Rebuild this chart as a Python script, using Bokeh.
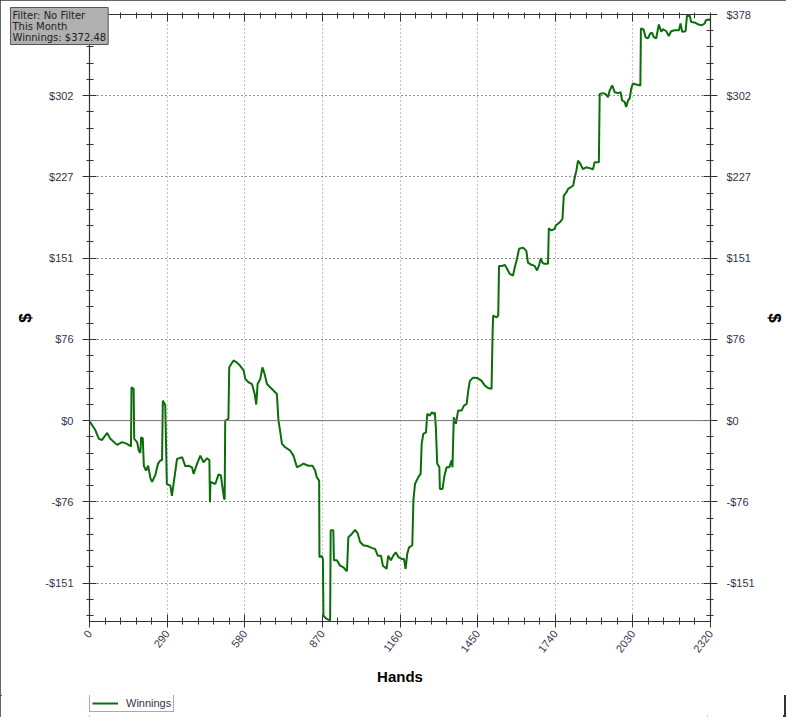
from bokeh.plotting import figure
from bokeh.layouts import column
from bokeh.models import (LinearAxis, FixedTicker, NumeralTickFormatter, Span, Legend,
                          LegendItem, Title, Range1d, ColumnDataSource)
from bokeh.embed import file_html
from bokeh.resources import INLINE

# ---- data ----
hands = [0, 4, 22, 35, 47, 66, 78, 103, 122, 140, 155, 157, 165, 167, 178, 184, 190, 193, 199,
         203, 211, 219, 228, 234, 246, 256, 265, 271, 274, 283, 289, 302, 308, 314, 321, 327,
         346, 358, 370, 383, 389, 402, 414, 426, 439, 448, 450, 452, 470, 482, 491, 495, 503,
         505, 507, 519, 522, 538, 551, 563, 576, 582, 594, 607, 617, 623, 628, 638, 646, 654,
         663, 675, 687, 700, 706, 712, 719, 731, 750, 762, 775, 787, 799, 818, 833, 843, 849,
         853, 858, 859, 868, 872, 874, 886, 899, 901, 911, 913, 924, 936, 949, 959, 962, 967,
         980, 992, 1002, 1011, 1023, 1042, 1054, 1067, 1077, 1089, 1096, 1110, 1116, 1126,
         1135, 1144, 1154, 1166, 1175, 1181, 1187, 1194, 1206, 1210, 1216, 1228, 1237, 1241,
         1247, 1257, 1262, 1272, 1278, 1287, 1290, 1294, 1299, 1307, 1309, 1319, 1325, 1334,
         1344, 1353, 1356, 1361, 1369, 1377, 1390, 1399, 1409, 1415, 1421, 1433, 1448, 1465,
         1477, 1489, 1502, 1506, 1508, 1521, 1527, 1530, 1543, 1551, 1557, 1570, 1582, 1589,
         1597, 1605, 1620, 1632, 1638, 1651, 1663, 1672, 1680, 1686, 1692, 1698, 1713, 1716,
         1726, 1738, 1742, 1757, 1767, 1772, 1782, 1788, 1797, 1807, 1813, 1819, 1825, 1834,
         1843, 1856, 1868, 1881, 1887, 1903, 1906, 1918, 1928, 1937, 1943, 1953, 1962, 1974,
         1984, 1990, 1999, 2005, 2012, 2018, 2024, 2030, 2043, 2058, 2060, 2070, 2077, 2086,
         2095, 2102, 2108, 2117, 2127, 2136, 2142, 2155, 2164, 2173, 2186, 2202, 2208, 2214,
         2227, 2232, 2242, 2248, 2260, 2275, 2288, 2298, 2303, 2313, 2320]
winnings = [-1, -2, -9, -17, -18, -11.5, -17, -22.6, -20, -21.7, -24, 31, 29.5, -17, -20, -28, -30,
            -15.5, -16.5, -42, -46.5, -42, -54, -57, -50.6, -40, -37, -37, 18.6, 14.6, -59, -60.5,
            -70, -59, -46.5, -35.7, -34, -42.5, -42, -43.5, -49.6, -40, -32.6, -38.8, -35, -37,
            -76, -57, -59, -50, -51, -59, -73, -73, 0, 1.5, 49.6, 56, 54, 51, 46.5, 38.8, 35.7, 34,
            24.8, 15, 34, 38.8, 49.6, 43.5, 34, 31, 28, 24.8, 0, -9.3, -21.7, -24.8, -28, -32.6,
            -43.5, -42, -40, -42, -42, -46.5, -52.8,
            -54, -56, -127, -126, -129, -181.6, -184.6, -186, -102, -102, -130, -130, -135, -136.6,
            -139.7, -139.7, -108.6, -105.5, -101.8, -105, -113, -116, -117, -118.5, -119.5, -125.7,
            -125.7, -135, -138, -125.7, -130, -125.7, -122.6, -127, -128.8, -128.8, -138, -124,
            -118, -116, -74.5, -59, -52.8, -49.6, -21.7, -12.4, -10.9, 6.2, 4.6, 7.7, 6.2, 7.7,
            -6.2, -40, -43.5, -63.6, -63.6, -52.8, -43.5, -43.5, -37, -43.5, 3, -3, 9.3, 9.3, 14,
            15.5, 28, 37, 40, 39.7, 37, 32.6, 30.4, 29.5, 82, 97.8, 96, 97.8, 144, 144, 145, 142.7,
            136.6, 135, 142.7, 150.5, 160, 161, 158, 147, 145, 144, 139.7, 145, 151, 147, 146, 146,
            179, 177, 178.5, 181.6, 184.6, 187.7, 209.5, 212.6, 215.7, 217, 218.8, 226.5, 232.8,
            242, 239, 234, 235.8, 235, 234, 240.5, 240.5, 304, 304.8, 304, 301, 307, 312, 305.7,
            304.8, 305.7, 298, 296.7, 292, 298, 299.8, 309, 313.8, 312.8, 312, 365, 364, 357,
            355.7, 360.3, 361, 357, 355.7, 368.7, 361.9, 364.3, 362.4, 358, 362.4, 363.4, 363.4,
            369.6, 361.9, 362.4, 376.7, 377.2, 371, 370.6, 368.7, 368, 369.6, 372.7, 373.4, 372.48]

x_ticks = [0, 290, 580, 870, 1160, 1450, 1740, 2030, 2320]
y_ticks = [-151.2, -75.6, 0, 75.6, 151.2, 226.8, 302.4, 378]
info_lines = ["Filter: No Filter", "This Month", "Winnings: $372.48"]
series_name = "Winnings"

FONT = "Liberation Sans"
LABEL_COLOR = "#34344c"
AXIS_COLOR = "#333333"
LINE_COLOR = "#0a6e0a"
LINE_WIDTH = 2

p = figure(frame_width=621, frame_height=607, output_backend="svg", toolbar_location=None,
           x_range=Range1d(0, 2320), y_range=Range1d(-187, 378),
           x_axis_location=None, y_axis_location=None,
           min_border_left=89, min_border_right=73, min_border_top=14, min_border_bottom=74)
p.outline_line_color = None
p.background_fill_color = "white"
p.border_fill_color = "white"

x_minor = [v * 58 for v in range(0, 41)]
y_minor = [round(-151.2 + 15.12 * (i - 3), 3) for i in range(0, 40)]
xticker = FixedTicker(ticks=x_ticks, minor_ticks=x_minor)
yticker = FixedTicker(ticks=y_ticks, minor_ticks=y_minor)

def style_axis(ax, labels=True):
    ax.axis_line_color = AXIS_COLOR
    ax.axis_line_width = 1.2
    ax.major_tick_line_color = AXIS_COLOR
    ax.minor_tick_line_color = AXIS_COLOR
    ax.major_tick_in = 7
    ax.major_tick_out = 6
    ax.minor_tick_in = 4
    ax.minor_tick_out = 3
    ax.major_label_text_font = FONT
    ax.major_label_text_font_size = "11px"
    ax.major_label_text_color = LABEL_COLOR
    ax.axis_label_text_font = FONT
    ax.axis_label_text_font_style = "bold"
    ax.axis_label_text_color = "black"
    if not labels:
        ax.major_label_text_font_size = "0px"
        ax.major_label_standoff = 0
        ax.major_tick_out = 0
        ax.minor_tick_out = 2

xb = LinearAxis(ticker=xticker, axis_label="Hands")
style_axis(xb)
xb.major_label_orientation = 0.92
xb.axis_label_text_font_size = "15px"
xb.major_label_standoff = 4
xb.axis_label_standoff = 9
p.add_layout(xb, "below")

xt = LinearAxis(ticker=xticker)
style_axis(xt, labels=False)
p.add_layout(xt, "above")

fmt = NumeralTickFormatter(format="$0")
yl = LinearAxis(ticker=yticker, formatter=fmt, axis_label="$")
style_axis(yl)
yl.major_tick_out = 7
yl.major_label_standoff = 9
yl.axis_label_text_font_size = "17px"
yl.axis_label_standoff = 7
p.add_layout(yl, "left")

yr = LinearAxis(ticker=yticker, formatter=fmt, axis_label="$")
style_axis(yr)
yr.major_tick_out = 7
yr.major_label_standoff = 9
yr.axis_label_text_font_size = "17px"
yr.axis_label_standoff = 7
p.add_layout(yr, "right")

p.xgrid.ticker = xticker
p.ygrid.ticker = yticker
p.xgrid.grid_line_color = "#8a8a8a"
p.xgrid.grid_line_dash = "1 3"
p.ygrid.grid_line_color = "#222222"
p.ygrid.grid_line_dash = "1 3"

p.add_layout(Span(location=0, dimension="width", line_color="#7a7a7a", line_width=1))

src = ColumnDataSource(dict(hands=hands, winnings=winnings))
r = p.line("hands", "winnings", source=src, line_color=LINE_COLOR, line_width=LINE_WIDTH)

info = Title(text="\n".join(info_lines), align="left", vertical_align="bottom",
             offset=-79, standoff=-64, text_font="DejaVu Sans", text_font_size="10px",
             text_font_style="normal", text_color="#222222", background_fill_color="#b0b0b0",
             border_line_color="#555555", border_line_width=1, padding=2)
p.add_layout(info, "above")

# legend strip below the chart: its key is the same Winnings series, viewed out of range
lf = figure(width=783, height=22, output_backend="svg", toolbar_location=None,
            x_range=Range1d(5000, 5001), y_range=Range1d(1000, 1001), min_border=0,
            x_axis_location=None, y_axis_location=None)
lf.outline_line_color = None
lf.xgrid.visible = False
lf.ygrid.visible = False
lf.border_fill_color = "white"
lf.background_fill_color = "white"
key = lf.line("hands", "winnings", source=src, line_color=LINE_COLOR, line_width=LINE_WIDTH)
legend = Legend(items=[LegendItem(label=series_name, renderers=[key])], location=(0, 5),
                orientation="horizontal", label_text_font=FONT, label_text_font_size="11px",
                label_text_color=LABEL_COLOR, glyph_width=26, glyph_height=10, padding=2,
                margin=0, spacing=0, label_standoff=8, border_line_color="#555555",
                border_line_width=1, background_fill_alpha=1, label_height=10)
lf.add_layout(legend, "center")

page = column(p, lf, spacing=0, styles={"outline": "2px solid #333333", "outline-offset": "-2px"})

open("out.html", "w").write(file_html(page, INLINE))
